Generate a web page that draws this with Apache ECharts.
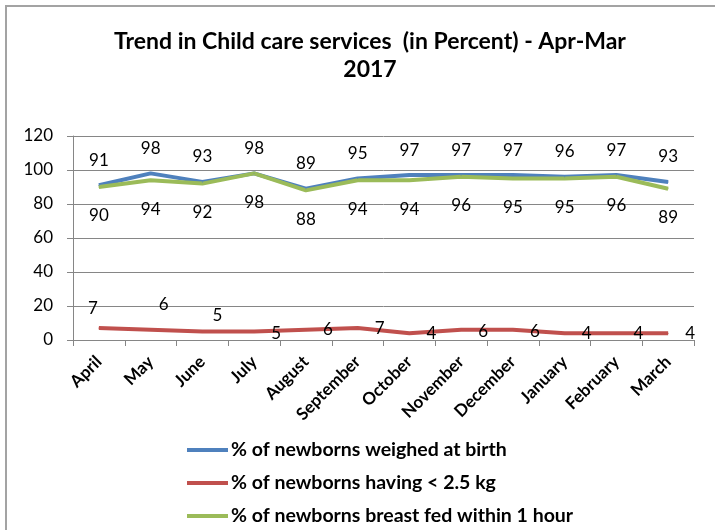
<!DOCTYPE html>
<html>
<head>
<meta charset="utf-8">
<script src="https://cdn.jsdelivr.net/npm/echarts@6/dist/echarts.min.js"></script>
<style>
html,body{margin:0;padding:0;background:#fff;}
#wrap{position:relative;width:715px;height:530px;overflow:hidden;}
#chart{position:absolute;left:0;top:0;width:715px;height:530px;}
#frame{position:absolute;left:5px;top:5px;width:800px;height:600px;border-left:2px solid #a3a3a3;border-top:2px solid #a3a3a3;pointer-events:none;}
</style>
</head>
<body>
<div id="wrap"><div id="chart"></div><div id="frame"></div></div>
<script>
const months = ["April","May","June","July","August","September","October","November","December","January","February","March"];
const weighed = [91,98,93,98,89,95,97,97,97,96,97,93];
const lowWeight = [7,6,5,5,6,7,4,6,6,4,4,4];
const breastFed = [90,94,92,98,88,94,94,96,95,95,96,89];
const yTicks = {min:0, max:120, interval:20};
// label offsets (layout only) for the red series, relative to the point
const lowWeightLabelOffsets = [[-6,-20],[13,-25],[15,-16],[22,2],[22,0],[22,0],[22,0],[22,2],[22,2],[22,0],[22,0],[22,0]];

const FONT = 'Lato';
const chart = echarts.init(document.getElementById('chart'));
const labelBase = {show:true,fontSize:17,color:'#000',fontFamily:FONT};
const option = {
  animation:false,
  textStyle:{fontFamily:FONT,color:'#000'},
  title:{
    text:'Trend in Child care services  (in Percent) - Apr-Mar\n2017',
    left:365, top:23, textAlign:'center',
    textStyle:{fontFamily:FONT,fontSize:23,fontWeight:'bold',color:'#000',lineHeight:28}
  },
  grid:{left:73,right:21,top:136,bottom:190,containLabel:false},
  xAxis:{
    type:'category', data:months, boundaryGap:true,
    axisLine:{lineStyle:{color:'#868686'}},
    axisTick:{show:true,length:6,lineStyle:{color:'#868686'}},
    axisLabel:{rotate:45,fontSize:17,fontWeight:'bold',color:'#000',fontFamily:FONT,margin:19,interval:0}
  },
  yAxis:{
    type:'value', min:yTicks.min, max:yTicks.max, interval:yTicks.interval,
    axisLine:{show:true,lineStyle:{color:'#868686'}},
    axisTick:{show:true,length:6,lineStyle:{color:'#868686'}},
    splitLine:{lineStyle:{color:'#868686'}},
    axisLabel:{fontSize:17,color:'#000',fontFamily:FONT,margin:20}
  },
  legend:{
    orient:'vertical', left:187, top:440, itemGap:13, padding:0,
    icon:'rect', itemWidth:41, itemHeight:4,
    textStyle:{fontSize:19.5,fontWeight:'bold',color:'#000',fontFamily:FONT,lineHeight:20,padding:[0,0,0,-2]},
    data:['% of newborns weighed at birth','% of newborns having < 2.5 kg','% of newborns breast fed within 1 hour']
  },
  series:[
    {
      name:'% of newborns weighed at birth', type:'line', data:weighed,
      symbol:'circle', symbolSize:1, showSymbol:true,
      lineStyle:{width:4,color:'#4F81BD'}, itemStyle:{color:'#4F81BD'},
      label:Object.assign({position:'top',distance:16},labelBase)
    },
    {
      name:'% of newborns having < 2.5 kg', type:'line',
      data:lowWeight.map((v,i)=>({value:v,label:{offset:lowWeightLabelOffsets[i]}})),
      symbol:'circle', symbolSize:1, showSymbol:true,
      lineStyle:{width:4,color:'#C0504D'}, itemStyle:{color:'#C0504D'},
      label:Object.assign({position:'inside'},labelBase)
    },
    {
      name:'% of newborns breast fed within 1 hour', type:'line', data:breastFed,
      symbol:'circle', symbolSize:1, showSymbol:true,
      lineStyle:{width:4,color:'#9BBB59'}, itemStyle:{color:'#9BBB59'},
      label:Object.assign({position:'bottom',distance:20},labelBase)
    }
  ]
};
chart.setOption(option);
</script>
</body>
</html>
